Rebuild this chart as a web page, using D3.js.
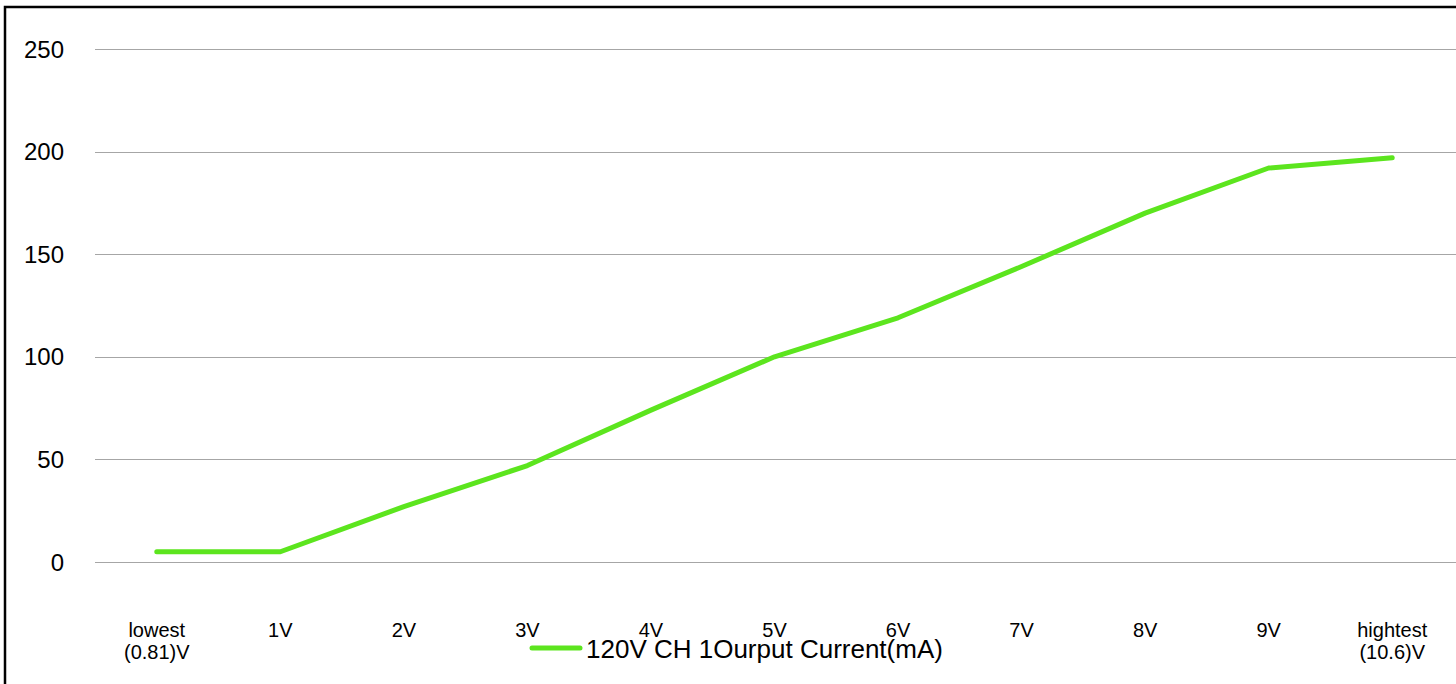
<!DOCTYPE html>
<html>
<head>
<meta charset="utf-8">
<script src="https://cdn.jsdelivr.net/npm/d3@7"></script>
<style>
  html, body { margin: 0; padding: 0; background: #fff; }
  svg { display: block; font-family: "Liberation Sans", Arial, sans-serif; }
</style>
</head>
<body>
<div id="chart"></div>
<script>
const categories = [
  ["lowest", "(0.81)V"],
  ["1V"], ["2V"], ["3V"], ["4V"], ["5V"], ["6V"], ["7V"], ["8V"], ["9V"],
  ["hightest", "(10.6)V"],
];
const current = [5, 5, 27, 47, 74, 100, 119, 144, 170, 192, 197];
const yTicks = [0, 50, 100, 150, 200, 250];
const seriesName = "120V CH 1Ourput Current(mA)";

const lineColor = "#5ce51e";
const gridColor = "#a6a6a6";
const width = 1456;
const height = 684;

const svg = d3
  .select("#chart")
  .append("svg")
  .attr("width", width)
  .attr("height", height);

// outer chart border (runs off right and bottom like the reference)
svg
  .append("rect")
  .attr("x", 5)
  .attr("y", 7)
  .attr("width", width + 20)
  .attr("height", height + 20)
  .attr("fill", "none")
  .attr("stroke", "#000")
  .attr("stroke-width", 2.5);

const keys = categories.map((d, i) => i);
const x = d3.scalePoint().domain(keys).range([95, 1454]).padding(0.5);
const y = d3.scaleLinear().domain([0, 250]).range([562, 49]);

// gridlines
svg
  .append("g")
  .selectAll("line")
  .data(yTicks)
  .join("line")
  .attr("x1", 95)
  .attr("x2", width)
  .attr("y1", (d) => Math.round(y(d)) + 0.5)
  .attr("y2", (d) => Math.round(y(d)) + 0.5)
  .attr("stroke", gridColor)
  .attr("stroke-width", 1);

// y tick labels
svg
  .append("g")
  .selectAll("text")
  .data(yTicks)
  .join("text")
  .attr("x", 64)
  .attr("y", (d) => y(d))
  .attr("dy", "0.36em")
  .attr("text-anchor", "end")
  .attr("font-size", 24)
  .attr("fill", "#000")
  .text((d) => d);

// x category labels
const xl = svg
  .append("g")
  .selectAll("text")
  .data(categories)
  .join("text")
  .attr("x", (d, i) => x(i))
  .attr("y", 637)
  .attr("text-anchor", "middle")
  .attr("font-size", 20)
  .attr("fill", "#000");
xl.selectAll("tspan")
  .data((d) => d)
  .join("tspan")
  .attr("x", function () {
    return d3.select(this.parentNode).attr("x");
  })
  .attr("dy", (d, i) => (i === 0 ? 0 : 22))
  .text((d) => d);

// series line
const line = d3
  .line()
  .x((d, i) => x(i))
  .y((d) => y(d));

svg
  .append("path")
  .datum(current)
  .attr("d", line)
  .attr("fill", "none")
  .attr("stroke", lineColor)
  .attr("stroke-width", 5)
  .attr("stroke-linecap", "round")
  .attr("stroke-linejoin", "round");

// legend
const legend = svg.append("g");
legend
  .append("line")
  .attr("x1", 532)
  .attr("x2", 580)
  .attr("y1", 648)
  .attr("y2", 648)
  .attr("stroke", lineColor)
  .attr("stroke-width", 5)
  .attr("stroke-linecap", "round");
legend
  .append("text")
  .attr("x", 586)
  .attr("y", 658)
  .attr("font-size", 26)
  .attr("fill", "#000")
  .text(seriesName);
</script>
</body>
</html>
